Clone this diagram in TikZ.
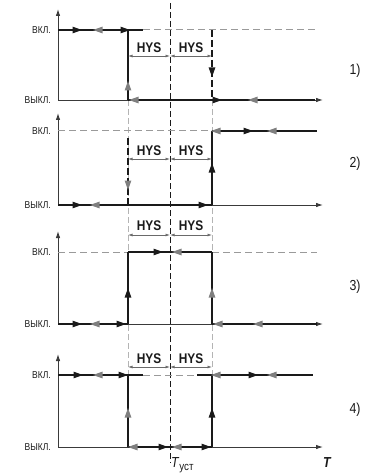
\documentclass[tikz,border=0pt]{standalone}
\usepackage{fontspec}
\setmainfont{Liberation Sans}[FakeStretch=0.85]
\usetikzlibrary{arrows.meta}
\definecolor{blk}{HTML}{1A1A1A}
\definecolor{gry}{HTML}{7F7F7F}
\definecolor{dgry}{HTML}{9A9A9A}
\definecolor{lgry}{HTML}{B4B4B4}
\definecolor{axc}{HTML}{3A3A3A}
\definecolor{dimc}{HTML}{6A6A6A}
\newcommand\tipR[3]{\fill[#1] (#2,#3) -- ++(-9.5,-3.4) -- ++(0,6.8) -- cycle;}
\newcommand\tipL[3]{\fill[#1] (#2,#3) -- ++(9.5,-3.4) -- ++(0,6.8) -- cycle;}
\newcommand\tipU[3]{\fill[#1] (#2,#3) -- ++(-3.4,9.5) -- ++(6.8,0) -- cycle;}
\newcommand\tipD[3]{\fill[#1] (#2,#3) -- ++(-3.4,-9.5) -- ++(6.8,0) -- cycle;}
\tikzset{
 thk/.style={line width=1.9pt, draw=blk},
 axl/.style={line width=0.9pt, draw=axc, -{Latex[length=7pt,width=4.5pt]}},
 gdash/.style={line width=1pt, draw=dgry, dash pattern=on 7pt off 4pt},
 guide/.style={line width=0.7pt, draw=lgry, dash pattern=on 6pt off 3pt},
 cguide/.style={line width=0.8pt, draw=blk, dash pattern=on 6pt off 3pt},
 bdash/.style={line width=1.9pt, draw=blk, dash pattern=on 7pt off 3pt},
 dimline/.style={line width=0.7pt, draw=dimc, {Latex[length=4.5pt,width=3pt]}-{Latex[length=4.5pt,width=3pt]}},
 lbl/.style={font=\fontsize{10}{10}\selectfont, anchor=east, inner sep=0, text=blk},
 hys/.style={font=\bfseries\fontsize{14}{14}\selectfont, inner sep=0, text=blk},
 num/.style={font=\fontsize{14.5}{15}\selectfont, inner sep=0, text=blk},
}
\begin{document}
\begin{tikzpicture}[x=1pt,y=-1pt]
\useasboundingbox (0,0) rectangle (376,473);
% guide lines
\draw[guide] (128,100) -- (128,447);
\draw[guide] (212,100) -- (212,447);
\draw[cguide] (170,3) -- (170,463);

% ---------- panel 1 ----------
\draw[axl] (58,100) -- (58,9);
\draw[axl] (58,100) -- (323,100);
\draw[gdash] (143,30) -- (318,30);
\draw[thk] (58,30) -- (143,30);
\draw[thk] (128,30) -- (128,100);
\draw[bdash] (212,30) -- (212,100);
\draw[thk] (128,100) -- (315,100);
\tipR{blk}{82}{30} \tipL{gry}{93}{30} \tipR{blk}{130}{30}
\tipU{gry}{128}{81} \tipD{blk}{212}{77}
\tipL{gry}{129}{100} \tipR{blk}{222}{100} \tipL{gry}{248}{100}
\node[lbl] (on1) at (51,30) {ВКЛ.};
\node[lbl] (off1) at (51,100) {ВЫКЛ.};
\node[hys] (h1a) at (149,48) {HYS};
\node[hys] (h1b) at (191,48) {HYS};
\draw[dimline] (128,56) -- (170,56);
\draw[dimline] (170,56) -- (212,56);
\node[num] (n1) at (355,71) {1)};

% ---------- panel 2 ----------
\draw[axl] (58,205) -- (58,113);
\draw[axl] (58,205) -- (323,205);
\draw[gdash] (58,131) -- (212,131);
\draw[thk] (212,131) -- (317,131);
\draw[thk] (212,131) -- (212,205);
\draw[bdash] (128,138) -- (128,205);
\draw[thk] (58,205) -- (212,205);
\tipL{gry}{211}{131} \tipR{blk}{253}{131} \tipL{gry}{267}{131}
\tipU{blk}{212}{163} \tipD{gry}{128}{190}
\tipR{blk}{82}{205} \tipL{gry}{90}{205} \tipR{blk}{208}{205}
\node[lbl] (on2) at (51,131) {ВКЛ.};
\node[lbl] (off2) at (51,205) {ВЫКЛ.};
\node[hys] (h2a) at (149,151) {HYS};
\node[hys] (h2b) at (191,151) {HYS};
\draw[dimline] (128,159) -- (170,159);
\draw[dimline] (170,159) -- (212,159);
\node[num] (n2) at (355,164) {2)};

% ---------- panel 3 ----------
\draw[axl] (58,324) -- (58,231);
\draw[axl] (58,324) -- (323,324);
\draw[gdash] (58,252) -- (317,252);
\draw[thk] (128,252) -- (212,252);
\draw[thk] (128,252) -- (128,324);
\draw[thk] (212,252) -- (212,324);
\draw[thk] (58,324) -- (128,324);
\draw[thk] (212,324) -- (317,324);
\tipR{blk}{163}{252} \tipL{gry}{172}{252}
\tipU{blk}{128}{288} \tipU{gry}{212}{288}
\tipR{blk}{82}{324} \tipL{gry}{90}{324} \tipR{blk}{126}{324}
\tipL{gry}{213}{324} \tipL{gry}{253}{324}
\node[lbl] (on3) at (51,252) {ВКЛ.};
\node[lbl] (off3) at (51,324) {ВЫКЛ.};
\node[hys] (h3a) at (149,226) {HYS};
\node[hys] (h3b) at (191,226) {HYS};
\draw[dimline] (128,235) -- (170,235);
\draw[dimline] (170,235) -- (212,235);
\node[num] (n3) at (355,287) {3)};

% ---------- panel 4 ----------
\draw[axl] (58,447) -- (58,354);
\draw[axl] (58,447) -- (323,447);
\draw[gdash] (143,375) -- (197,375);
\draw[thk] (58,375) -- (143,375);
\draw[thk] (197,375) -- (313,375);
\draw[thk] (128,375) -- (128,447);
\draw[thk] (212,375) -- (212,447);
\draw[thk] (128,447) -- (212,447);
\tipR{blk}{83}{375} \tipL{gry}{93}{375} \tipR{blk}{128}{375}
\tipL{gry}{211}{375} \tipR{blk}{258}{375} \tipL{gry}{267}{375}
\tipU{gry}{128}{408} \tipU{blk}{212}{408}
\tipL{gry}{128}{447} \tipR{blk}{168}{447} \tipL{gry}{172}{447} \tipR{blk}{211}{447}
\node[lbl] (on4) at (51,375) {ВКЛ.};
\node[lbl] (off4) at (51,447) {ВЫКЛ.};
\node[hys] (h4a) at (149,359) {HYS};
\node[hys] (h4b) at (191,359) {HYS};
\draw[dimline] (128,367) -- (170,367);
\draw[dimline] (170,367) -- (212,367);
\node[num] (n4) at (355,410) {4)};

% axis labels
\node[anchor=west, inner sep=0, text=blk, font=\fontsize{14.5}{14}\selectfont] (tset) at (171,465) {\textit{T}\raisebox{-3pt}{\fontsize{11.5}{11}\selectfont уст}};
\node[anchor=center, inner sep=0, text=blk, font=\bfseries\itshape\fontsize{14.5}{14}\selectfont] (taxis) at (327,463) {T};
\end{tikzpicture}
\end{document}
